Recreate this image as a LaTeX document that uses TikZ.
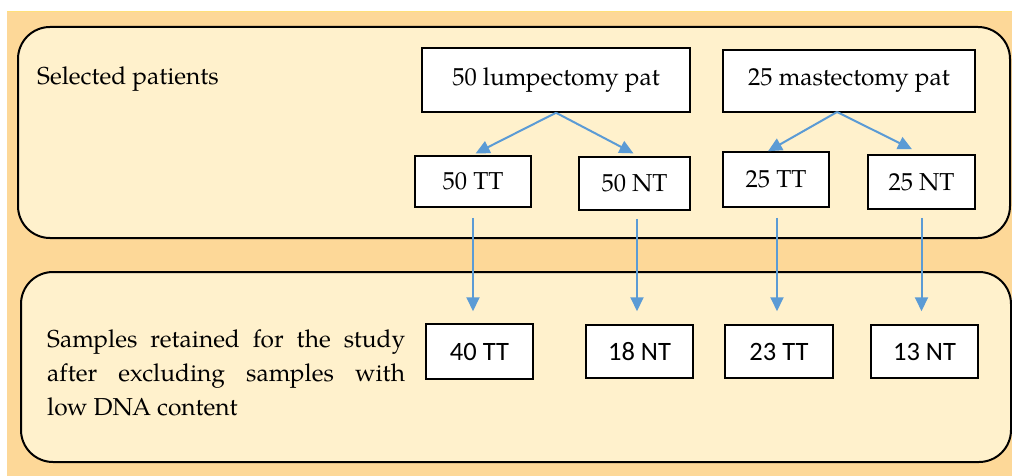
\documentclass[tikz,border=0pt]{standalone}
\usepackage{fontspec}
\newfontfamily\carlito{Carlito}
\newfontfamily\palfont{TeX Gyre Pagella}
\usetikzlibrary{arrows.meta,calc}
\definecolor{outerorange}{HTML}{FDD898}
\definecolor{topline}{HTML}{FFE07A}
\definecolor{innerfill}{HTML}{FFF1CC}
\definecolor{arrblue}{HTML}{5B9BD5}
\tikzset{
  panel/.style={draw=black, line width=2pt, fill=innerfill, rounded corners=32pt},
  serifbox/.style={draw=black, line width=1.5pt, fill=white, inner sep=0pt,
    font=\palfont\fontsize{24.5}{28}\selectfont},
  sansbox/.style={draw=black, line width=1.5pt, fill=white, inner sep=0pt,
    font=\carlito\fontsize{26.5}{30}\selectfont},
  arr/.style={draw=arrblue, line width=2pt, -{Triangle[length=14pt,width=13pt]}},
  lbl/.style={inner sep=0pt, font=\palfont\fontsize{24.5}{34}\selectfont}
}
\begin{document}
\begin{tikzpicture}[x=1pt,y=-1pt]
\useasboundingbox (0,0) rectangle (1012,476);
\fill[white] (0,0) rectangle (1012,476);
\fill[outerorange] (7,11) rectangle (1012,476);
\draw[topline, line width=1.5pt] (7,11.5) -- (1012,11.5);
\draw[panel] (18,27) rectangle (1010,238);
\draw[panel] (21,272) rectangle (1011,462);

\node[lbl, anchor=base west] (sel) at (37,85) {Selected patients};
\node[lbl, anchor=base west] (ret) at (47,347) {\parbox[t]{358pt}{\palfont\fontsize{24.5}{34}\selectfont Samples retained for the study\linebreak after excluding samples with\linebreak low DNA content}};

\node[serifbox, minimum width=268pt, minimum height=64pt] (lump) at (556,80) {50 lumpectomy pat};
\node[serifbox, minimum width=252pt, minimum height=62pt] (mast) at (849,81) {25 mastectomy pat};

\node[serifbox, minimum width=116pt, minimum height=51pt] (tt50) at (473,181.5) {50 TT};
\node[serifbox, minimum width=111pt, minimum height=53pt] (nt50) at (634.5,183.5) {50 NT};
\node[serifbox, minimum width=106pt, minimum height=55pt] (tt25) at (776,179.5) {25 TT};
\node[serifbox, minimum width=107pt, minimum height=54pt] (nt25) at (921.5,182) {25 NT};

\node[sansbox, minimum width=107pt, minimum height=55pt] (tt40) at (479.5,351.5) {40 TT};
\node[sansbox, minimum width=107pt, minimum height=53pt] (nt18) at (639.5,351.5) {18 NT};
\node[sansbox, minimum width=108pt, minimum height=53pt] (tt23) at (779,351.5) {23 TT};
\node[sansbox, minimum width=107pt, minimum height=53pt] (nt13) at (924.5,351.5) {13 NT};

\coordinate (mastfork) at (837,112);
\draw[arr, shorten >=4pt] (lump.south) -- ($(tt50.north)+(-1,0)$);
\draw[arr, shorten >=4pt] (lump.south) -- ($(nt50.north)+(2.5,-1)$);
\draw[arr] (mastfork) -- ($(tt25.north)+(-8,0)$);
\draw[arr] (mastfork) -- ($(nt25.north)+(-9.5,-5)$);

\draw[arr, shorten <=10pt, shorten >=12pt] (tt50.south) -- (tt50.south |- tt40.north);
\draw[arr, shorten <=8pt, shorten >=13pt] ($(nt50.south)+(2.5,0)$) -- ($(nt50.south |- nt18.north)+(2.5,0)$);
\draw[arr, shorten <=10pt, shorten >=13pt] ($(tt25.south)+(1,0)$) -- ($(tt25.south |- tt23.north)+(1,0)$);
\draw[arr, shorten <=8pt, shorten >=13pt] (nt25.south) -- (nt25.south |- nt13.north);
\end{tikzpicture}
\end{document}
